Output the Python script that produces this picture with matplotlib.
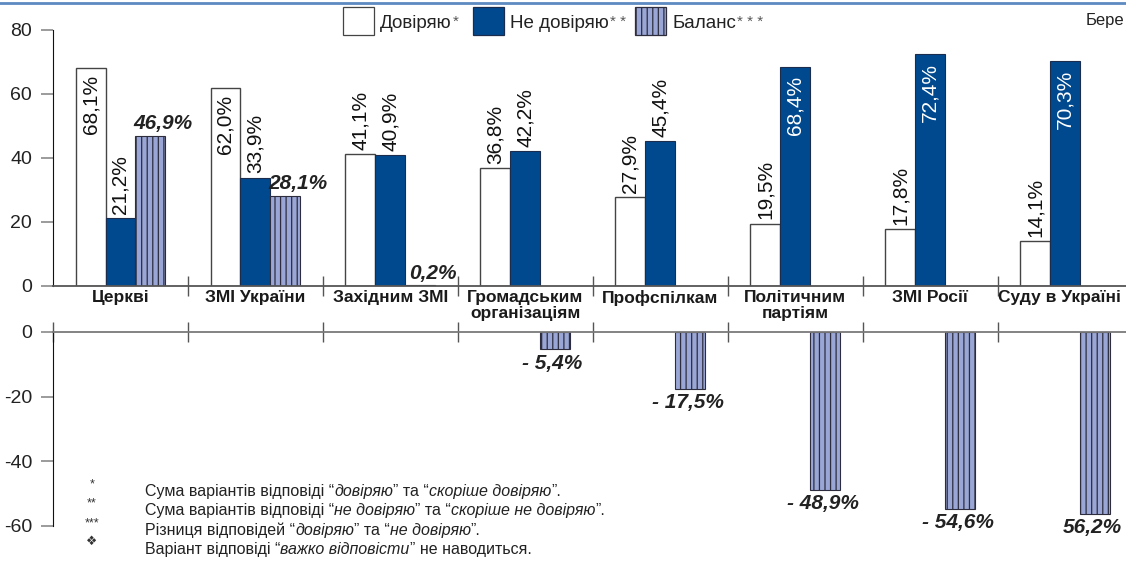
import numpy as np
import matplotlib
matplotlib.use('Agg')
import matplotlib.pyplot as plt
from matplotlib import font_manager
from matplotlib.patches import Rectangle
from matplotlib.lines import Line2D
from matplotlib.transforms import ScaledTranslation

# ── data ────────────────────────────────────────────────────────────────
categories = ['Церкві', 'ЗМІ України', 'Західним ЗМІ', 'Громадським\nорганізаціям',
              'Профспілкам', 'Політичним\nпартіям', 'ЗМІ Росії', 'Суду в Україні']
trust    = [68.1, 62.0, 41.1, 36.8, 27.9, 19.5, 17.8, 14.1]
distrust = [21.2, 33.9, 40.9, 42.2, 45.4, 68.4, 72.4, 70.3]
balance  = [46.9, 28.1, 0.2, -5.4, -17.5, -48.9, -54.6, -56.2]
balance_labels = ['46,9%', '28,1%', '0,2%', '- 5,4%', '- 17,5%',
                  '- 48,9%', '- 54,6%', '56,2%']
legend_labels = [('Довіряю', '*'), ('Не довіряю', '* *'), ('Баланс', '* * *')]
notes = [
    ('*',   [('Сума варіантів відповіді “', 'normal'), ('довіряю', 'italic'),
             ('” та “', 'normal'), ('скоріше довіряю', 'italic'), ('”.', 'normal')]),
    ('**',  [('Сума варіантів відповіді “', 'normal'), ('не довіряю', 'italic'),
             ('” та “', 'normal'), ('скоріше не довіряю', 'italic'), ('”.', 'normal')]),
    ('***', [('Різниця відповідей “', 'normal'), ('довіряю', 'italic'),
             ('” та “', 'normal'), ('не довіряю', 'italic'), ('”.', 'normal')]),
    ('❖',   [('Варіант відповіді “', 'normal'), ('важко відповісти', 'italic'),
             ('” не наводиться.', 'normal')]),
]

# ── styles ──────────────────────────────────────────────────────────────
W, H = 1126, 563
DARK = '#00498f'
HATCH_FC = '#9aa7d6'
HATCH_EC = '#2d2d3d'
names = {f.name for f in font_manager.fontManager.ttflist}
NARROW = 'Liberation Sans Narrow' if 'Liberation Sans Narrow' in names else 'Liberation Sans'
plt.rcParams['font.family'] = ['Liberation Sans', 'DejaVu Sans']
plt.rcParams['axes.unicode_minus'] = False
plt.rcParams['hatch.linewidth'] = 0.9


def fmt(v):
    return f'{v:.1f}%'.replace('.', ',')


def fx(x):
    return x / W


def fy(y):
    return 1 - y / H


fig = plt.figure(figsize=(W / 100, H / 100), dpi=100)
x_max = 7.95
ax = fig.add_axes([fx(53), fy(286), (W - 53) / W, (286 - 30) / H])
ax2 = fig.add_axes([fx(53), fy(526), (W - 53) / W, (526 - 332) / H])

centers = np.arange(len(categories)) + 0.5
bw = 0.222
bal = np.array(balance)

# ── upper panel ─────────────────────────────────────────────────────────
ax.bar(centers - bw, trust, bw, color='white', edgecolor='#444444', lw=1)
ax.bar(centers, distrust, bw, color=DARK, edgecolor='#1c2c4c', lw=0.8)
pos = bal >= 0
ax.bar(centers[pos] + bw, bal[pos], bw, color=HATCH_FC, edgecolor=HATCH_EC,
       hatch='|||', lw=0.8)

for x, v in zip(centers - bw, trust):
    if v > 60:
        ax.annotate(fmt(v), (x, v), xytext=(0, -5), textcoords='offset points',
                    rotation=90, ha='center', va='top', fontsize=15, color='#111111')
    else:
        ax.annotate(fmt(v), (x, v), xytext=(0, 3), textcoords='offset points',
                    rotation=90, ha='center', va='bottom', fontsize=15, color='#111111')
for x, v in zip(centers, distrust):
    if v > 60:
        ax.annotate(fmt(v), (x, v), xytext=(0, -6), textcoords='offset points',
                    rotation=90, ha='center', va='top', fontsize=15, color='white')
    else:
        ax.annotate(fmt(v), (x, v), xytext=(0, 3), textcoords='offset points',
                    rotation=90, ha='center', va='bottom', fontsize=15, color='#111111')
for x, v, lab in zip(centers + bw, balance, balance_labels):
    if v >= 0:
        ax.annotate(lab, (x, v), xytext=(9, 2), textcoords='offset points',
                    ha='center', va='bottom', fontsize=15, fontweight='bold',
                    style='italic', color='#222222')

ax.set_xlim(0, x_max)
ax.set_ylim(0, 80)
ax.set_yticks([0, 20, 40, 60, 80])
ax.tick_params(axis='y', length=9, width=1.2, color='#8a8a8a', pad=6,
               labelsize=14, labelcolor='#222222')
ax.set_xticks(np.arange(1, 8))
ax.set_xticklabels([])
ax.tick_params(axis='x', which='major', direction='inout', length=14,
               width=1, color='#555555')
ax.set_xticks(centers, minor=True)
ax.set_xticklabels(categories, minor=True, fontfamily=NARROW, fontweight='bold',
                   fontsize=12.5, color='#1a1a1a', linespacing=1.05)
ax.tick_params(axis='x', which='minor', length=0, pad=3)
# the last label sits against the right edge, nudge it inwards
last = ax.get_xticklabels(minor=True)[-1]
last.set_transform(last.get_transform() + ScaledTranslation(-0.06, 0, fig.dpi_scale_trans))
for s in ['top', 'right']:
    ax.spines[s].set_visible(False)
ax.spines['left'].set_color('#111111')
ax.spines['bottom'].set_color('#555555')
ax.spines['bottom'].set_linewidth(1.3)
ax.patch.set_visible(False)

# ── lower panel ─────────────────────────────────────────────────────────
neg = bal < 0
ax2.bar(centers[neg] + bw, bal[neg], bw, color=HATCH_FC, edgecolor=HATCH_EC,
        hatch='|||', lw=0.8)
for x, v, lab in zip(centers + bw, balance, balance_labels):
    if v < 0:
        ax2.annotate(lab, (x, v), xytext=(-2, -3), textcoords='offset points',
                     ha='center', va='top', fontsize=15, fontweight='bold',
                     style='italic', color='#222222')
ax2.set_xlim(0, x_max)
ax2.set_ylim(-60, 0)
ax2.set_yticks([-60, -40, -20, 0])
ax2.tick_params(axis='y', length=9, width=1.2, color='#8a8a8a', pad=6,
                labelsize=14, labelcolor='#222222')
ax2.xaxis.set_ticks_position('top')
ax2.set_xticks(np.arange(0, 8))
ax2.tick_params(axis='x', direction='inout', length=14, width=1, color='#555555',
                labeltop=False, labelbottom=False)
for s in ['bottom', 'right']:
    ax2.spines[s].set_visible(False)
ax2.spines['left'].set_color('#111111')
ax2.spines['top'].set_color('#7a7a7a')
ax2.spines['top'].set_linewidth(1.3)
ax2.patch.set_visible(False)

# ── decorations: top rule, legend, footnotes ────────────────────────────
fig.add_artist(Line2D([0, 1], [fy(3), fy(3)], transform=fig.transFigure,
                      color='#5d8ac0', lw=2))
fig.text(fx(1124), fy(20), 'Бере', ha='right', va='center', fontsize=12,
         fontfamily=NARROW, color='#222222')

renderer = fig.canvas.get_renderer()


def draw_runs(x0, y, runs, **kw):
    x = x0
    for s, style in runs:
        t = fig.text(fx(x), fy(y), s, style=style, ha='left', va='baseline', **kw)
        x += t.get_window_extent(renderer=renderer).width
    return x


box_x = [343, 473, 635]
box_styles = [dict(facecolor='white', edgecolor='#444444'),
              dict(facecolor=DARK, edgecolor='#1c2c4c'),
              dict(facecolor=HATCH_FC, edgecolor=HATCH_EC, hatch='|||')]
for bx, st, (lab, star) in zip(box_x, box_styles, legend_labels):
    fig.add_artist(Rectangle((fx(bx), fy(35)), 31 / W, 28 / H,
                             transform=fig.transFigure, lw=0.9, **st))
    xe = draw_runs(bx + 37, 28, [(lab, 'normal')], fontsize=13.5,
                   fontfamily=NARROW, color='#222222')
    fig.text(fx(xe + 1), fy(26), star, ha='left', va='baseline', fontsize=11,
             fontfamily=NARROW, color='#555555')

note_y = [496, 515, 535, 554]
for (mark, runs), y in zip(notes, note_y):
    fig.text(fx(92), fy(y - 9), mark, ha='center', va='baseline', fontsize=9,
             family=['Liberation Sans', 'DejaVu Sans'], color='#333333')
    draw_runs(145, y, runs, fontsize=11.5, fontfamily=NARROW, color='#222222')

fig.savefig('out.png', dpi=100)
